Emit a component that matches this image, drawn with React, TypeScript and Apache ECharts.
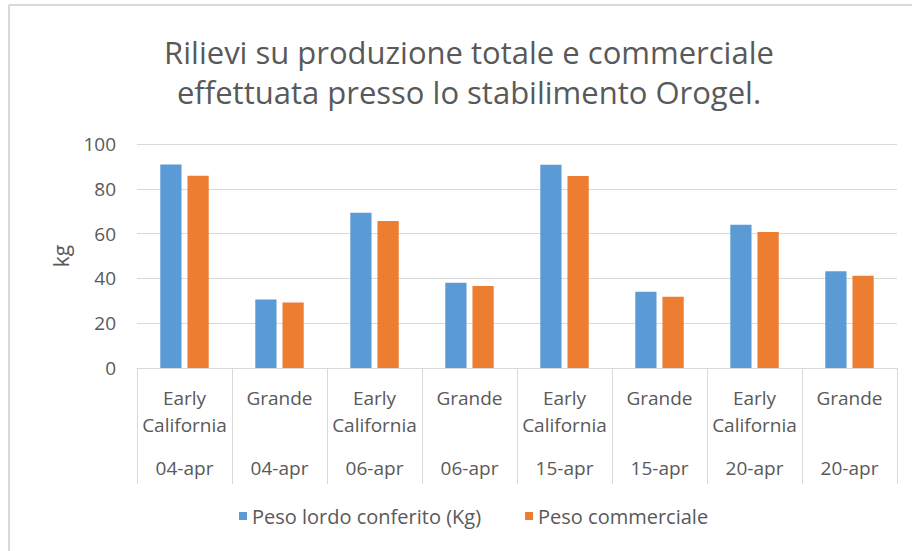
import React, { useEffect, useRef } from "react";
import * as echarts from "echarts";

const varieties = ["Early\nCalifornia", "Grande", "Early\nCalifornia", "Grande", "Early\nCalifornia", "Grande", "Early\nCalifornia", "Grande"];
const dates = ["04-apr", "04-apr", "06-apr", "06-apr", "15-apr", "15-apr", "20-apr", "20-apr"];
const pesoLordo = [90.8, 30.6, 69.3, 38.1, 90.7, 34.0, 64.0, 43.2];
const pesoCommerciale = [85.8, 29.2, 65.6, 36.6, 85.7, 31.8, 60.7, 41.2];
const seriesNames = ["Peso lordo conferito (Kg)", "Peso commerciale"];
const titleText = "Rilievi su produzione totale e commerciale\neffettuata presso lo stabilimento Orogel.";

const FONT = "'Open Sans', 'Noto Sans', sans-serif";
const GREY = "#595959";

export default function App() {
  const ref = useRef<HTMLDivElement>(null);
  useEffect(() => {
    if (!ref.current) return;
    const chart = echarts.init(ref.current, undefined, { renderer: "svg" });
    chart.setOption({
      animation: false,
      backgroundColor: "#ffffff",
      textStyle: { fontFamily: FONT },
      title: {
        text: titleText,
        left: 464,
        textAlign: "center",
        top: 27,
        textStyle: { fontFamily: FONT, fontSize: 31, fontWeight: "normal", color: GREY, lineHeight: 40 },
      },
      graphic: [
        { type: "line", shape: { x1: 9, y1: 5, x2: 912, y2: 5 }, style: { stroke: "#d9d9d9", lineWidth: 2 } },
        { type: "line", shape: { x1: 9, y1: 5, x2: 9, y2: 551 }, style: { stroke: "#d9d9d9", lineWidth: 2 } },
      ],
      legend: {
        bottom: 20,
        left: 234,
        itemWidth: 8,
        itemHeight: 8,
        itemGap: 44,
        icon: "rect",
        textStyle: { fontFamily: FONT, fontSize: 20, color: GREY },
        data: seriesNames,
      },
      grid: { left: 137, right: 15, top: 144, bottom: 183, containLabel: false },
      xAxis: [
        {
          type: "category",
          data: varieties,
          axisLine: { show: true, lineStyle: { color: "#d9d9d9", width: 1 } },
          axisTick: { show: true, length: 116, lineStyle: { color: "#d9d9d9" } },
          axisLabel: { fontFamily: FONT, fontSize: 19, color: GREY, lineHeight: 27, margin: 16, interval: 0 },
        },
        {
          type: "category",
          data: dates,
          position: "bottom",
          axisLine: { show: false },
          axisTick: { show: false },
          axisLabel: { fontFamily: FONT, fontSize: 19, color: GREY, lineHeight: 27, margin: 86, interval: 0 },
        },
      ],
      yAxis: {
        type: "value",
        min: 0,
        max: 100,
        interval: 20,
        name: "kg",
        nameLocation: "middle",
        nameGap: 66,
        nameRotate: 90,
        nameTextStyle: { fontFamily: FONT, fontSize: 21, color: GREY },
        axisLine: { show: false },
        axisTick: { show: false },
        axisLabel: { fontFamily: FONT, fontSize: 19, color: GREY, margin: 21 },
        splitLine: { lineStyle: { color: "#d9d9d9", width: 1 } },
      },
      series: [
        {
          name: seriesNames[0],
          type: "bar",
          data: pesoLordo,
          itemStyle: { color: "#5b9bd5" },
          barGap: "28%",
          barCategoryGap: "49%",
        },
        {
          name: seriesNames[1],
          type: "bar",
          data: pesoCommerciale,
          itemStyle: { color: "#ed7d31" },
          barGap: "28%",
          barCategoryGap: "49%",
        },
      ],
    });
    return () => chart.dispose();
  }, []);
  return <div ref={ref} style={{ position: "fixed", left: 0, top: 0, width: 912, height: 551 }} />;
}
